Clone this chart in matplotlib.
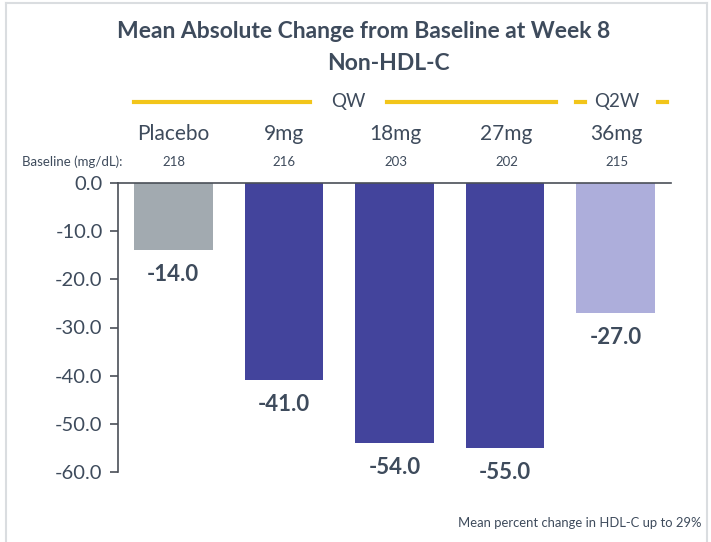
import matplotlib.pyplot as plt
from matplotlib.lines import Line2D

# Data
categories = ["Placebo", "9mg", "18mg", "27mg", "36mg"]
baseline = ["218", "216", "203", "202", "215"]
changes = [-14.0, -41.0, -54.0, -55.0, -27.0]
bar_colors = ["#A2AAB0", "#43449C", "#43449C", "#43449C", "#ADAEDB"]
yticks = [0, -10, -20, -30, -40, -50, -60]

TEXT = "#3E4B5C"
GOLD = "#F2C51A"
FONT = ["Lato", "DejaVu Sans"]
plt.rcParams["font.family"] = FONT

W, H = 711, 542
fig = plt.figure(figsize=(W / 100, H / 100), dpi=100)
fig.patch.set_facecolor("white")


def fx(px):
    return px / W


def fy(py):
    return 1 - py / H


ax = fig.add_axes([fx(118), fy(472), fx(671) - fx(118), fy(183) - fy(472)])
x = list(range(len(categories)))
ax.bar(x, changes, width=0.71, color=bar_colors, zorder=2)
ax.set_xlim(-0.5, 4.5)
ax.set_ylim(-60, 0)
ax.set_yticks(yticks)
ax.set_yticklabels([f"{v:.1f}" for v in yticks], fontsize=14.5, color=TEXT)
ax.set_xticks([])
for s in ["right", "bottom"]:
    ax.spines[s].set_visible(False)
ax.spines["left"].set_color("#4A4F57")
ax.spines["top"].set_color("#4A4F57")
ax.spines["left"].set_linewidth(1.2)
ax.spines["top"].set_linewidth(1.2)
ax.tick_params(axis="y", direction="out", length=6, width=1.2, color="#4A4F57", pad=5)

# Value labels below each bar
for xi, v in zip(x, changes):
    ax.annotate(f"{v:.1f}", (xi, v), xytext=(0, -17.5), textcoords="offset points",
                ha="center", va="center", fontsize=16, fontweight="bold", color=TEXT)

# Titles
fig.text(fx(364), fy(31), "Mean Absolute Change from Baseline at Week 8",
         ha="center", va="center", fontsize=16.5, fontweight="bold", color=TEXT)
fig.text(fx(388), fy(64), "Non-HDL-C",
         ha="center", va="center", fontsize=16.5, fontweight="bold", color=TEXT)

# Dosing schedule brackets
y_sched = fy(102)
for x0, x1 in [(134, 310), (387, 556), (576, 585), (658, 667)]:
    fig.add_artist(Line2D([fx(x0), fx(x1)], [y_sched, y_sched], color=GOLD, lw=3))
fig.text(fx(348), y_sched, "QW", ha="center", va="center", fontsize=13.5, color=TEXT)
fig.text(fx(617), y_sched, "Q2W", ha="center", va="center", fontsize=13.5, color=TEXT)

# Category names and baseline values
centers_px = [173.5, 284, 395.5, 506.5, 616.5]
for cx, name, b in zip(centers_px, categories, baseline):
    fig.text(fx(cx), fy(134), name, ha="center", va="center", fontsize=15, color=TEXT)
    fig.text(fx(cx), fy(162), b, ha="center", va="center", fontsize=9.5, color=TEXT)
fig.text(fx(122), fy(162), "Baseline (mg/dL):", ha="right", va="center", fontsize=9.5, color=TEXT)

# Footnote
fig.text(fx(702), fy(523), "Mean percent change in HDL-C up to 29%",
         ha="right", va="center", fontsize=9.4, color=TEXT)

# Light frame
frame = "#DADDE0"
fig.add_artist(Line2D([fx(6), fx(707)], [fy(3), fy(3)], color=frame, lw=1.5))
fig.add_artist(Line2D([fx(6), fx(6)], [fy(3), fy(542)], color=frame, lw=1.5))
fig.add_artist(Line2D([fx(707), fx(707)], [fy(3), fy(542)], color=frame, lw=1.5))

fig.savefig("out.png", dpi=100)
